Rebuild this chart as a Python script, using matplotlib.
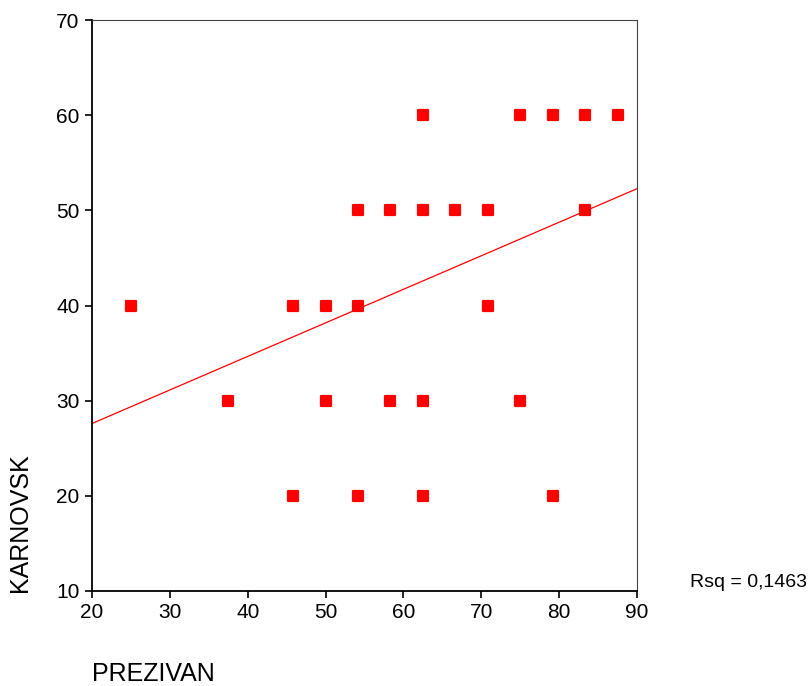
import numpy as np
import matplotlib
matplotlib.use("Agg")
import matplotlib.pyplot as plt
from matplotlib.markers import MarkerStyle

plt.rcParams['font.family'] = ['Liberation Sans', 'DejaVu Sans']

# PREZIVAN (x) vs KARNOVSK (y)
prezivan = [62.5, 75, 79.17, 83.33, 87.5,
            54.17, 58.33, 62.5, 66.67, 70.83, 83.33,
            25, 45.83, 50, 54.17, 70.83,
            37.5, 50, 58.33, 62.5, 75,
            45.83, 54.17, 62.5, 79.17]
karnovsk = [60, 60, 60, 60, 60,
            50, 50, 50, 50, 50, 50,
            40, 40, 40, 40, 40,
            30, 30, 30, 30, 30,
            20, 20, 20, 20]

# linear fit
FIT_INTERCEPT = 20.55
FIT_SLOPE = 0.3525
RSQ_TEXT = "Rsq = 0,1463"

x_ticks = [20, 30, 40, 50, 60, 70, 80, 90]
y_ticks = [10, 20, 30, 40, 50, 60, 70]

fig = plt.figure(figsize=(8.10, 6.86), dpi=100)
ax = fig.add_axes([92 / 810, 1 - 591 / 686, 545 / 810, 571 / 686])

ax.plot(prezivan, karnovsk, linestyle='none',
        marker=MarkerStyle('s', joinstyle='round'), markersize=7.2,
        markerfacecolor='#ff0000', markeredgecolor='#ff0000', markeredgewidth=1.6,
        zorder=3)

xs = np.array([20, 90])
ax.plot(xs, FIT_INTERCEPT + FIT_SLOPE * xs, color='#ff0000', linewidth=0.9, zorder=2)

ax.set_xlim(20, 90)
ax.set_ylim(10, 70)
ax.set_xticks(x_ticks)
ax.set_yticks(y_ticks)
ax.tick_params(direction='out', length=5, width=1.2, labelsize=15, pad=4,
               top=False, right=False)

for side in ['left', 'bottom']:
    ax.spines[side].set_linewidth(1.3)
    ax.spines[side].set_color('black')
for side in ['top', 'right']:
    ax.spines[side].set_linewidth(0.8)
    ax.spines[side].set_color('#444444')

fig.text(8 / 810, 1 - 592 / 686, "KARNOVSK", rotation=90, fontsize=18,
         ha='left', va='bottom')
fig.text(92 / 810, 1 - 681 / 686, "PREZIVAN", fontsize=18, ha='left', va='baseline')
fig.text(690 / 810, 1 - 587 / 686, RSQ_TEXT, fontsize=14, ha='left', va='baseline')

fig.savefig("out.png", dpi=100)
